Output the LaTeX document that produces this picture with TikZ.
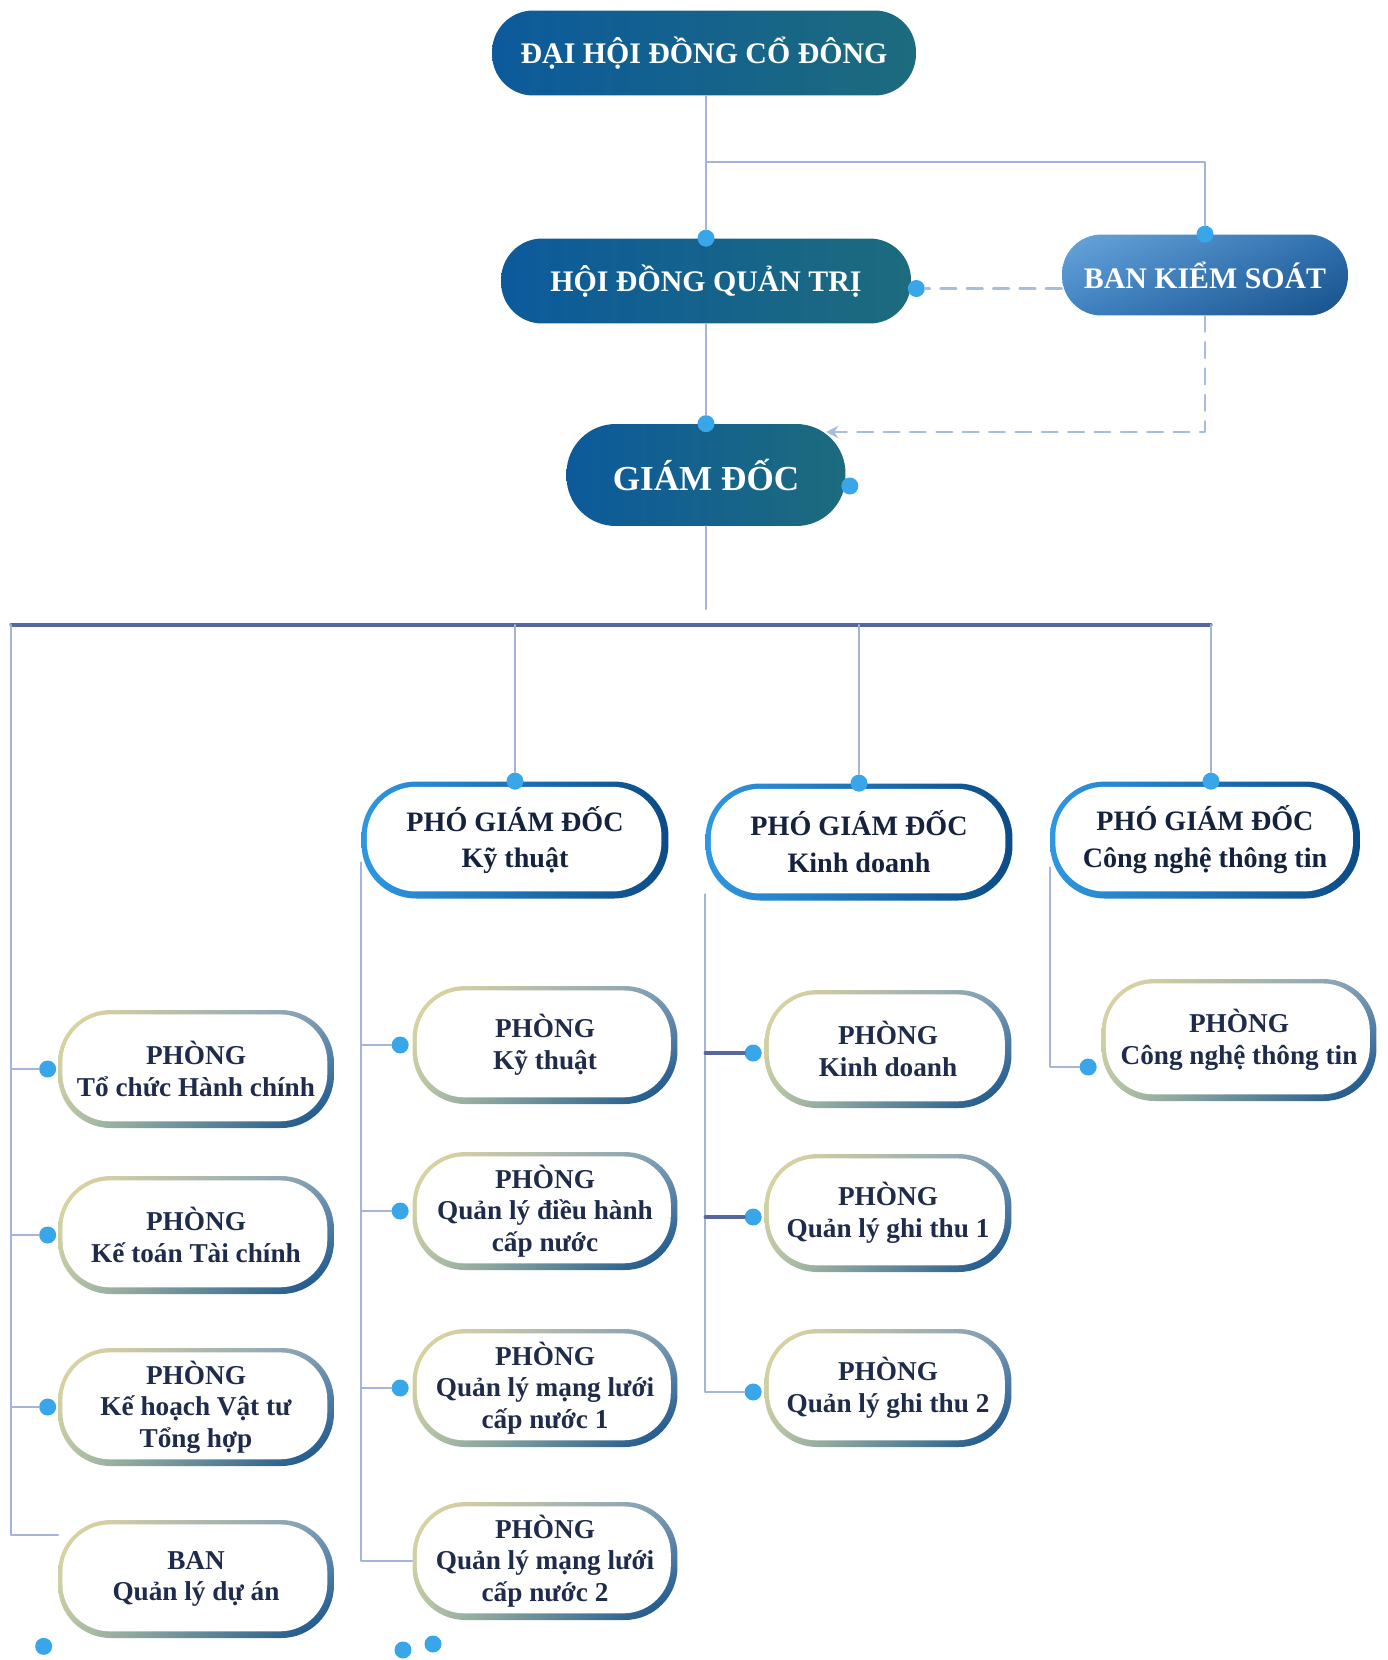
\documentclass[tikz,border=0pt]{standalone}
\usepackage{fontspec}
\setmainfont{Liberation Serif}
\usetikzlibrary{arrows.meta,shadings}
\definecolor{ink}{HTML}{15223E}
\definecolor{deptink}{HTML}{1E2B4A}
\definecolor{sky}{HTML}{39A6E9}
\definecolor{wireblue}{HTML}{A5B5D9}
\definecolor{railblue}{HTML}{56669E}
\definecolor{dashblue}{HTML}{A8BCDD}
\definecolor{topl}{HTML}{0C5A9B}
\definecolor{topr}{HTML}{1D6B7D}
\definecolor{bksul}{HTML}{6AA6DC}
\definecolor{bksur}{HTML}{2E6FAE}
\definecolor{bksll}{HTML}{3F82C2}
\definecolor{bkslr}{HTML}{17508A}
\definecolor{pgdl}{HTML}{2F97E2}
\definecolor{pgdr}{HTML}{0C4B86}
\definecolor{brdul}{HTML}{E5D8A0}
\definecolor{brdll}{HTML}{B9C7A6}
\definecolor{brdur}{HTML}{7E9DB8}
\definecolor{brdlr}{HTML}{0D4C8A}

\begin{document}
\begin{tikzpicture}[x=0.02cm,y=-0.02cm,line cap=round,line join=round,
  knob/.style={circle,fill=sky,inner sep=0pt,minimum size=0.34cm},
  link/.style={draw=wireblue,line width=1.2pt},
  busline/.style={draw=railblue,line width=1.8pt},
  ctrl/.style={draw=dashblue,line width=1.3pt,dash pattern=on 9pt off 6pt},
  capsule/.style={rectangle,rounded corners=23.5pt,inner sep=0pt,minimum height=1.7cm,
    text=white,font=\bfseries\fontsize{17}{20}\selectfont},
  board/.style={capsule,left color=topl,right color=topr},
  deputy/.style={rectangle,rounded corners=31pt,inner sep=0pt,minimum width=6.14cm,
    minimum height=2.34cm,align=center,text=ink,font=\bfseries\fontsize{16}{21}\selectfont,
    fill=white,path picture={
      \shade[left color=pgdl,right color=pgdr] (path picture bounding box.south west) rectangle (path picture bounding box.north east);
      \fill[white,rounded corners=28pt] ([shift={(3pt,4pt)}]path picture bounding box.south west) rectangle ([shift={(-4pt,-3pt)}]path picture bounding box.north east);}},
  dept/.style={rectangle,rounded corners=30pt,inner sep=0pt,minimum height=2.36cm,
    align=center,text=deptink,font=\bfseries\fontsize{15.5}{18}\selectfont,
    fill=white,path picture={
      \shade[upper left=brdul,lower left=brdll,upper right=brdur,lower right=brdlr] (path picture bounding box.south west) rectangle (path picture bounding box.north east);
      \fill[white,rounded corners=27pt] ([shift={(2.5pt,3.8pt)}]path picture bounding box.south west) rectangle ([shift={(-3.8pt,-2.5pt)}]path picture bounding box.north east);}}]
  \path[use as bounding box] (0,0) rectangle (1387,1660);
  \fill[white] (0,0) rectangle (1387,1660);

  % top level
  \node[board,minimum width=8.48cm] (dhd) at (704,53) {ĐẠI HỘI ĐỒNG CỔ ĐÔNG};
  \node[board,minimum width=8.2cm] (hdqt) at (706,281) {HỘI ĐỒNG QUẢN TRỊ};
  \node[capsule,minimum width=5.72cm,minimum height=1.62cm,rounded corners=22.5pt,
    upper left=bksul,upper right=bksur,lower left=bksll,lower right=bkslr] (bks) at (1205,275) {BAN KIỂM SOÁT};
  \node[board,minimum width=5.58cm,minimum height=2.04cm,rounded corners=28pt,
    font=\bfseries\fontsize{20}{24}\selectfont] (gd) at (706,475) {GIÁM ĐỐC};

  \node[knob] (k-hdqt) at (hdqt.north) {};
  \node[knob] (k-bks) at (bks.north) {};
  \node[knob] (k-hdqt-e) at ([shift={(0.1cm,-0.15cm)}]hdqt.east) {};
  \node[knob] (k-gd) at (gd.north) {};
  \node[knob] (k-gd-e) at ([shift={(0.08cm,-0.22cm)}]gd.east) {};

  \coordinate (split) at (706,162);
  \coordinate (gd-in) at (826,432);
  \coordinate (gd-stub) at (706,609);
  \draw[link] (k-hdqt |- dhd.south) -- (k-hdqt);
  \draw[link] (split) -| (k-bks);
  \draw[link] (hdqt) -- (k-gd);
  \draw[ctrl] (k-hdqt-e -| bks.west) -- (k-hdqt-e);
  \draw[ctrl,-{Stealth[length=7pt,width=7pt]}] (bks.south) |- (gd-in);
  \draw[link] (gd) -- (gd-stub);

  % deputies
  \node[deputy] (pgd-kt) at (515,840) {PHÓ GIÁM ĐỐC\\Kỹ thuật};
  \node[deputy] (pgd-kd) at (859,842) {PHÓ GIÁM ĐỐC\\Kinh doanh};
  \node[deputy,minimum width=6.2cm] (pgd-it) at (1205,840) {PHÓ GIÁM ĐỐC\\Công nghệ thông tin};
  \node[knob] (k-pkt) at (pgd-kt.north) {};
  \node[knob] (k-pkd) at (pgd-kd.north) {};
  \node[knob] (k-pit) at ([xshift=0.12cm]pgd-it.north) {};

  \coordinate (bus-l) at (11,625);
  \draw[busline] (bus-l) -- (k-pit |- bus-l);
  \draw[link] (k-pkt |- bus-l) -- (k-pkt);
  \draw[link] (k-pkd |- bus-l) -- (k-pkd);
  \draw[link] (k-pit |- bus-l) -- (k-pit);

  % departments under the director
  \node[dept,minimum width=5.52cm] (tchc) at (196,1069) {PHÒNG\\Tổ chức Hành chính};
  \node[dept,minimum width=5.52cm] (ktc) at (196,1235) {PHÒNG\\Kế toán Tài chính};
  \node[dept,minimum width=5.52cm] (khvt) at (196,1407) {PHÒNG\\Kế hoạch Vật tư\\Tổng hợp};
  \node[dept,minimum width=5.52cm] (ban) at (196,1579) {BAN\\Quản lý dự án};
  \foreach \d in {tchc,ktc,khvt}
    \node[knob] (k-\d) at ([xshift=-0.2cm]\d.west) {};
  \node[knob] (k-ban) at ([shift={(-0.28cm,-0.16cm)}]ban.south west) {};
  \coordinate (ban-in) at (58,1535);
  \draw[link] (bus-l) |- (ban-in);
  \foreach \d in {tchc,ktc,khvt}
    \draw[link] (bus-l |- k-\d) -- (k-\d);

  % technical
  \node[dept,minimum width=5.3cm] (kt) at (545,1045) {PHÒNG\\Kỹ thuật};
  \node[dept,minimum width=5.3cm] (dh) at (545,1211) {PHÒNG\\Quản lý điều hành\\cấp nước};
  \node[dept,minimum width=5.3cm] (ml1) at (545,1388) {PHÒNG\\Quản lý mạng lưới\\cấp nước 1};
  \node[dept,minimum width=5.3cm] (ml2) at (545,1561) {PHÒNG\\Quản lý mạng lưới\\cấp nước 2};
  \foreach \d in {kt,dh,ml1}
    \node[knob] (k-\d) at ([xshift=-0.24cm]\d.west) {};
  \node[knob] (k-ml2a) at (403,1650) {};
  \node[knob] (k-ml2b) at (433,1644) {};
  \coordinate (kt-top) at ([yshift=-0.45cm]pgd-kt.west);
  \draw[link] (kt-top) |- (ml2);
  \foreach \d in {kt,dh,ml1}
    \draw[link] (kt-top |- k-\d) -- (k-\d);

  % business
  \node[dept,minimum width=4.94cm] (kd) at (888,1049) {PHÒNG\\Kinh doanh};
  \node[dept,minimum width=4.94cm] (gt1) at (888,1213) {PHÒNG\\Quản lý ghi thu 1};
  \node[dept,minimum width=4.94cm] (gt2) at (888,1388) {PHÒNG\\Quản lý ghi thu 2};
  \foreach \d in {kd,gt1,gt2}
    \node[knob] (k-\d) at ([shift={(-0.22cm,-0.08cm)}]\d.west) {};
  \coordinate (kd-top) at ([yshift=-1.05cm]pgd-kd.west);
  \draw[link] (kd-top) |- (k-gt2);
  \draw[busline] (kd-top |- k-kd) -- (k-kd);
  \draw[busline] (kd-top |- k-gt1) -- (k-gt1);

  % information technology
  \node[dept,minimum width=5.5cm,minimum height=2.44cm] (it) at (1239,1040) {PHÒNG\\Công nghệ thông tin};
  \node[knob] (k-it) at ([shift={(-0.26cm,-0.54cm)}]it.west) {};
  \coordinate (it-top) at ([yshift=-0.55cm]pgd-it.west);
  \draw[link] (it-top) |- (k-it);
\end{tikzpicture}
\end{document}
